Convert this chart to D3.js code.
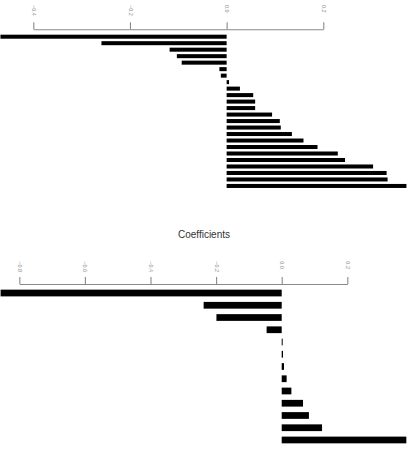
<!DOCTYPE html>
<html><head><meta charset="utf-8">
<script src="https://cdn.jsdelivr.net/npm/d3@7"></script>
<style>
body{margin:0;background:#fff;}
svg{display:block;font-family:"Liberation Sans",Arial,sans-serif;}
</style></head>
<body>
<svg id="c" width="419" height="463"></svg>
<script>
// Top chart values (sorted coefficients)
const topValues = [-0.468,-0.259,-0.118,-0.103,-0.093,-0.015,-0.012,0.005,0.0275,0.055,0.059,0.059,0.094,0.110,0.112,0.135,0.159,0.188,0.230,0.245,0.303,0.331,0.333,0.372];
const topTicks = [-0.4,-0.2,0.0,0.2];
const bottomTitle = "Coefficients";
const bottomValues = [-0.857,-0.238,-0.199,-0.046,0.003,0.004,0.007,0.015,0.0295,0.065,0.083,0.123,0.38];
const bottomTicks = [-0.8,-0.6,-0.4,-0.2,0.0,0.2];

const svg = d3.select("#c");

function panel(values, ticks, xDomain, xRange, axisY, yRange, padInner, labelOff){
  const g = svg.append("g");
  const x = d3.scaleLinear().domain(xDomain).range(xRange);
  const y = d3.scaleBand().domain(values.map((d,i)=>i)).range(yRange)
    .paddingInner(padInner).paddingOuter(padInner/2);
  const ax = g.append("g").attr("transform",`translate(0,${axisY})`)
    .call(d3.axisTop(x).tickValues(ticks).tickFormat(d3.format(".1f")).tickSize(7).tickSizeOuter(0));
  ax.select(".domain").attr("stroke","#8a8a8a").attr("stroke-width",1.1);
  ax.selectAll(".tick line").attr("stroke","#8a8a8a").attr("stroke-width",1.1);
  ax.selectAll(".tick text")
    .attr("x",0).attr("y",0).attr("dy","0.35em")
    .attr("text-anchor","start")
    .attr("transform",`translate(0,${labelOff}) rotate(90)`)
    .attr("fill","#8a8a8a")
    .style("font-size","5.5px")
    .style("font-family","'Liberation Sans',Arial,sans-serif");
  g.selectAll("rect.bar").data(values).enter().append("rect")
    .attr("class","bar")
    .attr("x",d=>x(Math.min(0,d)))
    .attr("width",d=>Math.abs(x(d)-x(0)))
    .attr("y",(d,i)=>y(i))
    .attr("height",y.bandwidth())
    .attr("fill","#000");
  return {x,g};
}

panel(topValues, topTicks, [-0.4,0.2], [33.3,323.3], 29.3, [33.45,189.2], 0.38, -24.3);
const b = panel(bottomValues, bottomTicks, [-0.8,0.2], [19.3,347.3], 284, [286.9,446.1], 0.45, -22.7);

svg.append("text").attr("x",204).attr("y",237.7)
  .attr("text-anchor","middle")
  .attr("fill","#333")
  .style("font-size","10px")
  .text(bottomTitle);
</script>
</body></html>
